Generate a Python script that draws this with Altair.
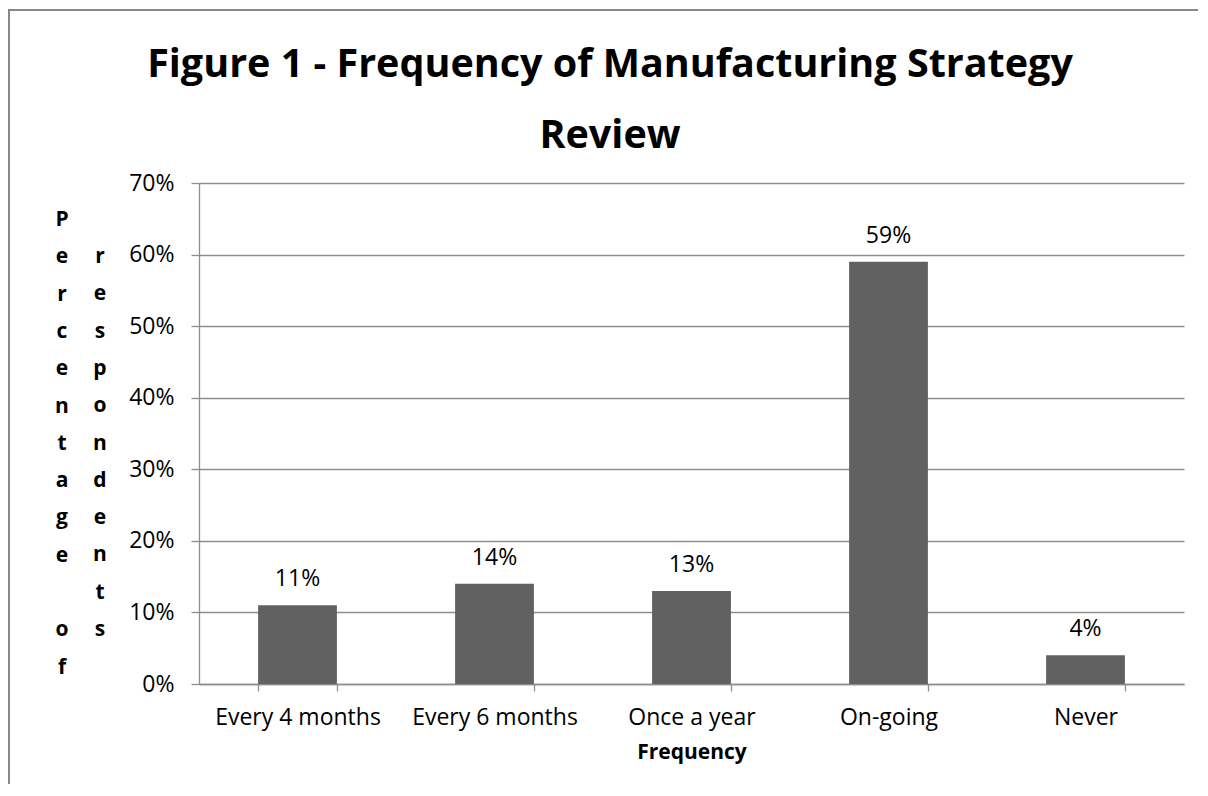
import altair as alt
import pandas as pd

categories = ["Every 4 months", "Every 6 months", "Once a year", "On-going", "Never"]
values = [0.11, 0.14, 0.13, 0.59, 0.04]
y_ticks = [0, 0.1, 0.2, 0.3, 0.4, 0.5, 0.6, 0.7]
chart_title = "Figure 1 - Frequency of Manufacturing Strategy\nReview"
y_title_col1a = "P\ne\nr\nc\ne\nn\nt\na\ng\ne"
y_title_col1b = "o\nf"
y_title_col2 = "r\ne\ns\np\no\nn\nd\ne\nn\nt\ns"
x_title = "Frequency"

df = pd.DataFrame({"cat": categories, "val": values})

FONT = "Open Sans"
W, H = 985, 501
GRAY = "#8e8e8e"
LH = 37.3

x_enc = alt.X(
    "cat:N",
    sort=categories,
    scale=alt.Scale(paddingInner=0.6, paddingOuter=0.3),
    axis=alt.Axis(
        title=x_title,
        labelAngle=0,
        tickBand="extent",
        tickSize=7,
        tickColor=GRAY,
        tickWidth=1.3,
        domainColor=GRAY,
        domainWidth=1.3,
        labelFontSize=23,
        labelFont=FONT,
        labelColor="#000000",
        labelPadding=15,
        titleFont=FONT,
        titleFontSize=21,
        titleFontWeight="bold",
        titleColor="#000000",
        titlePadding=12,
    ),
)

y_enc = alt.Y(
    "val:Q",
    scale=alt.Scale(domain=[0, 0.7], nice=False),
    axis=alt.Axis(
        title=None,
        values=y_ticks,
        format=".0%",
        tickSize=8,
        tickColor=GRAY,
        tickWidth=1.3,
        domainColor=GRAY,
        domainWidth=1.3,
        gridColor=GRAY,
        gridWidth=1.3,
        labelFontSize=23,
        labelFont=FONT,
        labelColor="#000000",
        labelPadding=17,
    ),
)

bars = alt.Chart(df).mark_bar(color="#616161").encode(x=x_enc, y=y_enc)

labels = alt.Chart(df).mark_text(
    baseline="alphabetic", dy=-19, fontSize=23, font=FONT, color="#000000"
).encode(
    x=alt.X("cat:N", sort=categories),
    y="val:Q",
    text=alt.Text("val:Q", format=".0%"),
)


def vtext(s, x, y):
    return alt.Chart(pd.DataFrame({"t": [s]})).mark_text(
        align="center", baseline="alphabetic", fontSize=21, font=FONT, fontWeight="bold",
        lineBreak="\n", lineHeight=LH, color="#000000"
    ).encode(x=alt.value(x), y=alt.value(y), text="t:N")


ytitle1a = vtext(y_title_col1a, -137, 43)
ytitle1b = vtext(y_title_col1b, -137, 43 + 11 * LH)
ytitle2 = vtext(y_title_col2, -99, 80)

title_mark = alt.Chart(pd.DataFrame({"t": [chart_title]})).mark_text(
    align="center", baseline="alphabetic", fontSize=39.5, font=FONT, fontWeight="bold",
    lineBreak="\n", lineHeight=71, color="#000000"
).encode(x=alt.value(411), y=alt.value(-106), text="t:N")

border = alt.Chart(pd.DataFrame({"a": [0]})).mark_rect(
    fill=None, stroke="#888888", strokeWidth=2, clip=False
).encode(
    x=alt.value(-190), x2=alt.value(1200),
    y=alt.value(-173), y2=alt.value(800),
)

chart = alt.layer(border, bars, labels, ytitle1a, ytitle1b, ytitle2, title_mark).properties(
    width=W,
    height=H,
    padding={"left": 191, "top": 175, "right": 14, "bottom": 100},
    autosize=alt.AutoSizeParams(type="none"),
).configure_view(stroke=None).configure_axisX(grid=False)

chart.save("out.html", embed_options={"renderer": "svg", "actions": False})
